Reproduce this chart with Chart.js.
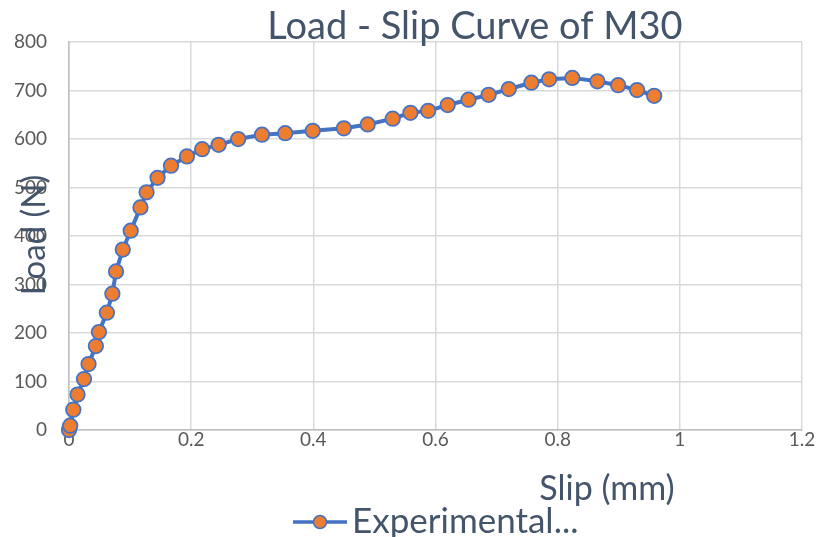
<!DOCTYPE html>
<html>
<head>
<meta charset="utf-8">
<script src="https://cdn.jsdelivr.net/npm/chart.js@4"></script>
<style>
  html, body { margin: 0; padding: 0; background: #ffffff; }
  #wrap { width: 819px; height: 537px; }
</style>
</head>
<body>
<div id="wrap"><canvas id="c" width="819" height="537"></canvas></div>
<script>
// Load - slip measurements for the M30 specimen
const slip = [0, 0.002, 0.007, 0.014, 0.0245, 0.032, 0.044, 0.049, 0.062, 0.071, 0.077, 0.088,
  0.101, 0.117, 0.127, 0.145, 0.167, 0.193, 0.218, 0.245, 0.277, 0.316, 0.354, 0.399, 0.450,
  0.489, 0.530, 0.559, 0.588, 0.620, 0.654, 0.687, 0.720, 0.757, 0.786, 0.824, 0.865, 0.899,
  0.930, 0.958];
const load = [0, 9, 42, 73, 105, 136, 173, 202, 242, 281, 327, 372,
  411, 459, 490, 520, 545, 564, 579, 588, 600, 609, 612, 617, 622,
  630, 642, 654, 658, 670, 681, 691, 703, 716, 723, 726, 719, 711,
  701, 689];

const chartTitle = 'Load - Slip Curve of M30';
const xTitle = 'Slip (mm)';
const yTitle = 'Load (N)';
const seriesName = 'Experimental...';

const FONT = 'Lato, "Open Sans", sans-serif';
const TEXT = '#44546A';
const TICK = '#595959';
const LINE = '#4472C4';
const MARK = '#ED7D31';

// Free-floating text: title, axis titles and the legend entry
const labelsPlugin = {
  id: 'labels',
  afterDraw(chart) {
    const ctx = chart.ctx;
    ctx.save();
    ctx.fillStyle = TEXT;
    ctx.textBaseline = 'middle';

    ctx.font = '38px ' + FONT;
    ctx.textAlign = 'center';
    ctx.fillText(chartTitle, 475, 27);

    ctx.font = '34px ' + FONT;
    ctx.fillText(xTitle, 607, 489);

    ctx.save();
    ctx.translate(34, 235);
    ctx.rotate(-Math.PI / 2);
    ctx.font = '33px ' + FONT;
    ctx.fillText(yTitle, 0, 0);
    ctx.restore();

    // legend entry
    const ly = 522;
    ctx.strokeStyle = LINE;
    ctx.lineWidth = 3.5;
    ctx.beginPath();
    ctx.moveTo(293, ly);
    ctx.lineTo(347, ly);
    ctx.stroke();
    ctx.beginPath();
    ctx.arc(320, ly, 6.5, 0, Math.PI * 2);
    ctx.fillStyle = MARK;
    ctx.fill();
    ctx.lineWidth = 1.5;
    ctx.stroke();
    ctx.fillStyle = TEXT;
    ctx.textAlign = 'left';
    ctx.font = '35px ' + FONT;
    ctx.fillText(seriesName, 352, ly);
    ctx.restore();
  }
};

new Chart(document.getElementById('c'), {
  type: 'scatter',
  data: {
    datasets: [{
      label: seriesName,
      data: slip.map((s, i) => ({ x: s, y: load[i] })),
      showLine: true,
      clip: false,
      borderColor: LINE,
      borderWidth: 4,
      backgroundColor: MARK,
      pointBackgroundColor: MARK,
      pointBorderColor: LINE,
      pointBorderWidth: 1.75,
      pointRadius: 7.25,
      tension: 0
    }]
  },
  options: {
    responsive: false,
    animation: false,
    layout: { padding: { top: 42, right: 17, left: 0, bottom: 0 } },
    plugins: {
      legend: { display: false },
      title: { display: false },
      tooltip: { enabled: false }
    },
    scales: {
      x: {
        type: 'linear',
        min: 0, max: 1.2,
        ticks: {
          stepSize: 0.2, color: TICK, font: { family: FONT, size: 19 }, padding: -2,
          callback: v => String(Math.round(v * 10) / 10)
        },
        grid: { color: '#d9d9d9', lineWidth: 1.5, drawTicks: false },
        border: { color: '#bfbfbf', width: 1.5 },
        afterFit(scale) { scale.height = 107; }
      },
      y: {
        min: 0, max: 800,
        ticks: { stepSize: 100, color: TICK, font: { family: FONT, size: 19 }, padding: 22 },
        grid: { color: '#d9d9d9', lineWidth: 1.5, drawTicks: false },
        border: { color: '#bfbfbf', width: 1.5 },
        afterFit(scale) { scale.width = 69; }
      }
    }
  },
  plugins: [labelsPlugin]
});
</script>
</body>
</html>
